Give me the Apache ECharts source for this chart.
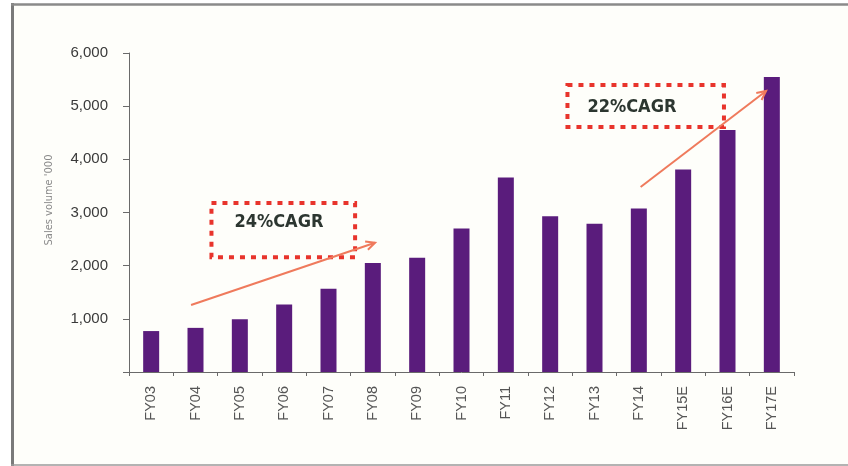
<!DOCTYPE html>
<html>
<head>
<meta charset="utf-8">
<script src="https://cdn.jsdelivr.net/npm/echarts@6/dist/echarts.min.js"></script>
<style>
  html, body { margin: 0; padding: 0; background: #ffffff; }
  #chart { width: 848px; height: 466px; }
</style>
</head>
<body>
<div id="chart"></div>
<script>
// Fiscal years and sales volume ('000 units)
var years = ['FY03', 'FY04', 'FY05', 'FY06', 'FY07', 'FY08', 'FY09', 'FY10',
             'FY11', 'FY12', 'FY13', 'FY14', 'FY15E', 'FY16E', 'FY17E'];
var salesVolume = [770, 830, 990, 1270, 1565, 2050, 2150, 2700,
                   3660, 2930, 2790, 3075, 3810, 4550, 5550];
var yTicks = [0, 1000, 2000, 3000, 4000, 5000, 6000];

// Growth call-outs: arrow start/end and box corners in (category index, value) units
var cagrLabels = ['24%CAGR', '22%CAGR'];
var cagrArrows = [
  [[0.90, 1260], [5.05, 2430]],
  [[11.04, 3480], [13.87, 5285]]
];
var cagrBoxes = [
  [[1.36, 3180], [4.60, 2160]],
  [[9.39, 5400], [12.92, 4610]]
];

var narrowFont = '"Liberation Sans Narrow", "DejaVu Sans Condensed", "Liberation Sans", sans-serif';
var axisFont = '"Liberation Sans", Arial, sans-serif';

var chart = echarts.init(document.getElementById('chart'), null, { renderer: 'canvas' });

chart.setOption({
  animation: false,
  backgroundColor: '#ffffff',
  grid: { left: 129, right: 54, top: 53, bottom: 94, containLabel: false },
  xAxis: {
    type: 'category',
    data: years,
    boundaryGap: true,
    axisLine: { lineStyle: { color: '#6a6a6a', width: 1 } },
    axisTick: { show: true, interval: 0, length: 4, lineStyle: { color: '#6a6a6a' } },
    axisLabel: {
      rotate: 90, interval: 0, margin: 14,
      color: '#555555', fontSize: 14.5, fontFamily: axisFont
    }
  },
  yAxis: {
    type: 'value',
    min: yTicks[0],
    max: yTicks[yTicks.length - 1],
    interval: 1000,
    splitLine: { show: false },
    axisLine: { show: true, lineStyle: { color: '#6a6a6a', width: 1 } },
    axisTick: { show: true, length: 6, lineStyle: { color: '#6a6a6a' } },
    axisLabel: {
      margin: 21, color: '#3a3a3a', fontSize: 15, fontFamily: axisFont,
      formatter: function (v) { return v === 0 ? '' : v.toLocaleString('en-US'); }
    }
  },
  series: [{
    type: 'bar',
    data: salesVolume,
    barWidth: 16,
    itemStyle: { color: '#5a1c7c' }
  }]
});

// Convert (fractional category index, value) into pixels via the axes
function toPx(pt) {
  var i0 = Math.floor(pt[0]);
  var f = pt[0] - i0;
  var a = chart.convertToPixel({ seriesIndex: 0 }, [i0, pt[1]]);
  var b = chart.convertToPixel({ seriesIndex: 0 }, [i0 + 1, pt[1]]);
  return [a[0] + (b[0] - a[0]) * f, a[1]];
}

var graphics = [];

// Page frame: heavy rule on the left and top, thin rule along the bottom
graphics.push({ type: 'rect', silent: true, z: -1,
  shape: { x: 13, y: 4, width: 848, height: 461 },
  style: { fill: '#fefefa', stroke: null } });
graphics.push({ type: 'line', silent: true,
  shape: { x1: 12.5, y1: 3, x2: 12.5, y2: 466 },
  style: { stroke: '#7a7a7a', lineWidth: 3 } });
graphics.push({ type: 'line', silent: true,
  shape: { x1: 11, y1: 4.5, x2: 848, y2: 4.5 },
  style: { stroke: '#8a8a8a', lineWidth: 2.5 } });
graphics.push({ type: 'line', silent: true,
  shape: { x1: 11, y1: 465, x2: 848, y2: 465 },
  style: { stroke: '#9a9a9a', lineWidth: 1.5 } });

// Y axis title
graphics.push({ type: 'text', silent: true,
  x: 49, y: 200, rotation: Math.PI / 2,
  style: { text: "Sales volume '000", fontSize: 11, fontFamily: narrowFont,
           fill: '#8a8a8a', align: 'center', verticalAlign: 'middle' } });

// CAGR call-outs
for (var k = 0; k < cagrBoxes.length; k++) {
  var p1 = toPx(cagrBoxes[k][0]);
  var p2 = toPx(cagrBoxes[k][1]);
  graphics.push({ type: 'rect', silent: true,
    shape: { x: p1[0], y: p1[1], width: p2[0] - p1[0], height: p2[1] - p1[1] },
    style: { fill: 'rgba(255,255,255,0)', stroke: '#e8342c', lineWidth: 4,
             lineDash: [5, 6], lineCap: 'butt' } });
  var tx = k === 0 ? p1[0] + 23 : p1[0] + 20;
  var ty = k === 0 ? p1[1] + 19 : (p1[1] + p2[1]) / 2 + 1;
  graphics.push({ type: 'text', silent: true,
    x: tx, y: ty,
    style: { text: cagrLabels[k], fontSize: 18, fontWeight: 'bold', fontFamily: narrowFont,
             fill: '#2c3630', align: 'left', verticalAlign: 'middle' } });

  var s = toPx(cagrArrows[k][0]);
  var e = toPx(cagrArrows[k][1]);
  graphics.push({ type: 'line', silent: true, z: 10,
    shape: { x1: s[0], y1: s[1], x2: e[0], y2: e[1] },
    style: { stroke: '#ef7a5c', lineWidth: 2 } });
  var ang = Math.atan2(e[1] - s[1], e[0] - s[0]);
  var hl = 10, hw = 0.45;
  graphics.push({ type: 'polyline', silent: true, z: 10,
    shape: { points: [
      [e[0] - hl * Math.cos(ang - hw), e[1] - hl * Math.sin(ang - hw)],
      [e[0], e[1]],
      [e[0] - hl * Math.cos(ang + hw), e[1] - hl * Math.sin(ang + hw)]
    ] },
    style: { stroke: '#ef7a5c', lineWidth: 2, fill: null } });
}

chart.setOption({ graphic: graphics });
</script>
</body>
</html>
